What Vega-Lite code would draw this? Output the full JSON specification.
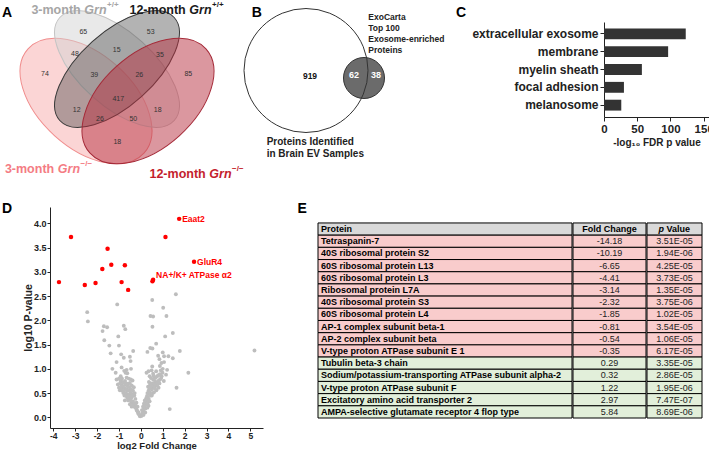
{
"$schema": "https://vega.github.io/schema/vega-lite/v6.json",
"background": "white",
"padding": {"left": 2, "top": 1, "right": 0, "bottom": 0},
"config": {
  "font": "Liberation Sans",
  "locale": {"number": {"decimal": ".", "thousands": ",", "grouping": [3], "currency": ["$", ""], "minus": "-"}},
  "view": {"stroke": null},
  "axis": {"grid": false, "labelFont": "Liberation Sans", "titleFont": "Liberation Sans", "domainColor": "#222", "tickColor": "#222", "labelColor": "#222", "titleColor": "#222", "labelFontWeight": "bold", "titleFontWeight": "bold", "labelFlush": false, "labelOverlap": false}
},
"datasets": {
  "ellipses": [
    {"set": "3-month Grn-/-", "x": 8.6, "y": 10.1},
    {"set": "3-month Grn+/+", "x": 11.7, "y": 6.9},
    {"set": "12-month Grn+/+", "x": 11.7, "y": 6.9},
    {"set": "12-month Grn-/-", "x": 14.8, "y": 10.1}
  ],
  "vennCounts": [
    {"region": "3m KO only", "count": 74, "x": 4.5, "y": 7.4},
    {"region": "3m WT only", "count": 65, "x": 8.33, "y": 3.17},
    {"region": "12m WT only", "count": 53, "x": 15.07, "y": 3.17},
    {"region": "12m KO only", "count": 85, "x": 18.83, "y": 7.4},
    {"region": "3m KO & 3m WT", "count": 48, "x": 7.5, "y": 5.4},
    {"region": "3m WT & 12m WT", "count": 15, "x": 11.67, "y": 5.0},
    {"region": "12m WT & 12m KO", "count": 35, "x": 16.0, "y": 5.5},
    {"region": "3m KO & 3m WT & 12m WT", "count": 39, "x": 9.43, "y": 7.5},
    {"region": "3m WT & 12m WT & 12m KO", "count": 26, "x": 13.93, "y": 7.5},
    {"region": "all four", "count": 417, "x": 11.83, "y": 9.9},
    {"region": "3m KO & 12m WT", "count": 12, "x": 7.67, "y": 11.0},
    {"region": "3m WT & 12m KO", "count": 18, "x": 15.77, "y": 11.0},
    {"region": "3m KO & 12m WT & 12m KO", "count": 26, "x": 10.0, "y": 11.9},
    {"region": "3m KO & 3m WT & 12m KO", "count": 50, "x": 13.33, "y": 11.9},
    {"region": "3m KO & 12m KO", "count": 18, "x": 11.73, "y": 14.17}
  ],
  "vennLabels": [
    {"set": "3-month Grn+/+", "age": "3-month", "genotype": "+/+", "x": 8.25, "y": 1.0},
    {"set": "12-month Grn+/+", "age": "12-month", "genotype": "+/+", "x": 18.75, "y": 1.0},
    {"set": "3-month Grn-/-", "age": "3-month", "genotype": "−/−", "x": 5.6, "y": 16.9},
    {"set": "12-month Grn-/-", "age": "12-month", "genotype": "−/−", "x": 20.75, "y": 17.35}
  ],
  "topPanels": [
    {"panel": "A", "x": 0.2, "y": 1.33},
    {"panel": "B", "x": 25.17, "y": 1.33},
    {"panel": "C", "x": 45.6, "y": 1.33}
  ],
  "bottomPanels": [
    {"panel": "D", "log2FC": -6.34, "log10P": 4.294},
    {"panel": "E", "log2FC": 7.16, "log10P": 4.294}
  ],
  "evSets": [
    {"set": "Brain EV proteins", "x": 30.6, "y": 7.05},
    {"set": "ExoCarta top 100", "x": 36.4, "y": 7.8}
  ],
  "evCounts": [
    {"region": "Brain EV only", "count": 919, "x": 31.0, "y": 7.6},
    {"region": "Both", "count": 62, "x": 35.4, "y": 7.5},
    {"region": "ExoCarta only", "count": 38, "x": 37.6, "y": 7.5}
  ],
  "evLabels": [
    {"group": "ExoCarta", "text": "ExoCarta", "x": 36.83, "y": 1.67},
    {"group": "ExoCarta", "text": "Top 100", "x": 36.83, "y": 2.83},
    {"group": "ExoCarta", "text": "Exosome-enriched", "x": 36.83, "y": 3.9},
    {"group": "ExoCarta", "text": "Proteins", "x": 36.83, "y": 5.0},
    {"group": "EV", "text": "Proteins Identified", "x": 26.67, "y": 14.17},
    {"group": "EV", "text": "in Brain EV Samples", "x": 26.67, "y": 15.4}
  ],
  "goTerms": [
    {"term": "extracellular exosome", "negLog10FDR": 123},
    {"term": "membrane", "negLog10FDR": 96.5},
    {"term": "myelin sheath", "negLog10FDR": 57},
    {"term": "focal adhesion", "negLog10FDR": 30},
    {"term": "melanosome", "negLog10FDR": 26}
  ],
  "volcano": [
    {"log2FC": 1.75, "log10P": 4.095, "sig": "yes", "label": "Eaat2"},
    {"log2FC": -3.19, "log10P": 3.72, "sig": "yes"},
    {"log2FC": 1.125, "log10P": 3.72, "sig": "yes"},
    {"log2FC": -1.52, "log10P": 3.48, "sig": "yes"},
    {"log2FC": -1.35, "log10P": 3.15, "sig": "yes"},
    {"log2FC": -1.76, "log10P": 3.06, "sig": "yes"},
    {"log2FC": -0.73, "log10P": 3.14, "sig": "yes"},
    {"log2FC": 2.43, "log10P": 3.21, "sig": "yes", "label": "GluR4"},
    {"log2FC": -3.74, "log10P": 2.79, "sig": "yes"},
    {"log2FC": -2.56, "log10P": 2.73, "sig": "yes"},
    {"log2FC": -2.07, "log10P": 2.77, "sig": "yes"},
    {"log2FC": -0.88, "log10P": 2.79, "sig": "yes"},
    {"log2FC": -0.58, "log10P": 2.63, "sig": "yes"},
    {"log2FC": 0.56, "log10P": 2.84, "sig": "yes", "label": "NA+/K+ ATPase α2"},
    {"log2FC": 0.53, "log10P": 2.81, "sig": "yes"},
    {"log2FC": 1.6, "log10P": 2.54, "sig": "no"},
    {"log2FC": 0.52, "log10P": 2.42, "sig": "no"},
    {"log2FC": -1.08, "log10P": 2.33, "sig": "no"},
    {"log2FC": 1.02, "log10P": 2.26, "sig": "no"},
    {"log2FC": -2.45, "log10P": 2.17, "sig": "no"},
    {"log2FC": 0.44, "log10P": 2.09, "sig": "no"},
    {"log2FC": 0.56, "log10P": 2.08, "sig": "no"},
    {"log2FC": 1.17, "log10P": 2.09, "sig": "no"},
    {"log2FC": -2.42, "log10P": 1.98, "sig": "no"},
    {"log2FC": -1.69, "log10P": 1.88, "sig": "no"},
    {"log2FC": -1.54, "log10P": 1.86, "sig": "no"},
    {"log2FC": -0.78, "log10P": 1.89, "sig": "no"},
    {"log2FC": -0.71, "log10P": 1.82, "sig": "no"},
    {"log2FC": 0.53, "log10P": 1.87, "sig": "no"},
    {"log2FC": -1.75, "log10P": 1.78, "sig": "no"},
    {"log2FC": 1.46, "log10P": 1.74, "sig": "no"},
    {"log2FC": 1.11, "log10P": 1.67, "sig": "no"},
    {"log2FC": -1.03, "log10P": 1.67, "sig": "no"},
    {"log2FC": -1.67, "log10P": 1.59, "sig": "no"},
    {"log2FC": -1.44, "log10P": 1.48, "sig": "no"},
    {"log2FC": -1.0, "log10P": 1.48, "sig": "no"},
    {"log2FC": 0.7, "log10P": 1.52, "sig": "no"},
    {"log2FC": 1.78, "log10P": 1.37, "sig": "no"},
    {"log2FC": 5.19, "log10P": 1.38, "sig": "no"},
    {"log2FC": -1.38, "log10P": 1.32, "sig": "no"},
    {"log2FC": -0.35, "log10P": 1.37, "sig": "no"},
    {"log2FC": 0.43, "log10P": 1.43, "sig": "no"},
    {"log2FC": 0.53, "log10P": 1.42, "sig": "no"},
    {"log2FC": 1.0, "log10P": 1.34, "sig": "no"},
    {"log2FC": 1.06, "log10P": 1.26, "sig": "no"},
    {"log2FC": 1.26, "log10P": 1.26, "sig": "no"},
    {"log2FC": 1.46, "log10P": 1.22, "sig": "no"},
    {"log2FC": 0.79, "log10P": 1.27, "sig": "no"},
    {"log2FC": -0.78, "log10P": 1.23, "sig": "no"},
    {"log2FC": -1.11, "log10P": 1.14, "sig": "no"},
    {"log2FC": -0.47, "log10P": 1.16, "sig": "no"},
    {"log2FC": 0.94, "log10P": 1.12, "sig": "no"},
    {"log2FC": 1.06, "log10P": 1.14, "sig": "no"},
    {"log2FC": 0.87, "log10P": 1.06, "sig": "no"},
    {"log2FC": -0.88, "log10P": 1.03, "sig": "no"},
    {"log2FC": -0.65, "log10P": 0.98, "sig": "no"},
    {"log2FC": -0.76, "log10P": 0.96, "sig": "no"},
    {"log2FC": -0.7, "log10P": 0.92, "sig": "no"},
    {"log2FC": -0.62, "log10P": 0.91, "sig": "no"},
    {"log2FC": 0.26, "log10P": 0.92, "sig": "no"},
    {"log2FC": 0.49, "log10P": 0.97, "sig": "no"},
    {"log2FC": 0.56, "log10P": 0.9, "sig": "no"},
    {"log2FC": 0.91, "log10P": 0.97, "sig": "no"},
    {"log2FC": 0.99, "log10P": 0.92, "sig": "no"},
    {"log2FC": 2.17, "log10P": 0.92, "sig": "no"},
    {"log2FC": -1.11, "log10P": 0.78, "sig": "no"},
    {"log2FC": -0.93, "log10P": 0.76, "sig": "no"},
    {"log2FC": -0.84, "log10P": 0.73, "sig": "no"},
    {"log2FC": -0.78, "log10P": 0.71, "sig": "no"},
    {"log2FC": -0.7, "log10P": 0.67, "sig": "no"},
    {"log2FC": -0.58, "log10P": 0.69, "sig": "no"},
    {"log2FC": -0.5, "log10P": 0.71, "sig": "no"},
    {"log2FC": -0.38, "log10P": 0.76, "sig": "no"},
    {"log2FC": -0.32, "log10P": 0.62, "sig": "no"},
    {"log2FC": 0.37, "log10P": 0.73, "sig": "no"},
    {"log2FC": 0.46, "log10P": 0.81, "sig": "no"},
    {"log2FC": 0.56, "log10P": 0.78, "sig": "no"},
    {"log2FC": 0.62, "log10P": 0.83, "sig": "no"},
    {"log2FC": 0.71, "log10P": 0.71, "sig": "no"},
    {"log2FC": 0.75, "log10P": 0.85, "sig": "no"},
    {"log2FC": 0.87, "log10P": 0.89, "sig": "no"},
    {"log2FC": 0.93, "log10P": 0.81, "sig": "no"},
    {"log2FC": 0.33, "log10P": 0.63, "sig": "no"},
    {"log2FC": 0.5, "log10P": 0.58, "sig": "no"},
    {"log2FC": 0.59, "log10P": 0.62, "sig": "no"},
    {"log2FC": 0.71, "log10P": 0.56, "sig": "no"},
    {"log2FC": 0.81, "log10P": 0.61, "sig": "no"},
    {"log2FC": -1.0, "log10P": 0.61, "sig": "no"},
    {"log2FC": -0.96, "log10P": 0.56, "sig": "no"},
    {"log2FC": -0.78, "log10P": 0.53, "sig": "no"},
    {"log2FC": -0.68, "log10P": 0.49, "sig": "no"},
    {"log2FC": -0.53, "log10P": 0.45, "sig": "no"},
    {"log2FC": -0.47, "log10P": 0.51, "sig": "no"},
    {"log2FC": -0.4, "log10P": 0.43, "sig": "no"},
    {"log2FC": -0.73, "log10P": 0.35, "sig": "no"},
    {"log2FC": -0.58, "log10P": 0.35, "sig": "no"},
    {"log2FC": -0.41, "log10P": 0.31, "sig": "no"},
    {"log2FC": -0.32, "log10P": 0.25, "sig": "no"},
    {"log2FC": -0.26, "log10P": 0.21, "sig": "no"},
    {"log2FC": -0.18, "log10P": 0.14, "sig": "no"},
    {"log2FC": -0.12, "log10P": 0.08, "sig": "no"},
    {"log2FC": -0.03, "log10P": 0.02, "sig": "no"},
    {"log2FC": 0.15, "log10P": 0.1, "sig": "no"},
    {"log2FC": 0.21, "log10P": 0.18, "sig": "no"},
    {"log2FC": 0.26, "log10P": 0.27, "sig": "no"},
    {"log2FC": 0.27, "log10P": 0.35, "sig": "no"},
    {"log2FC": 0.32, "log10P": 0.42, "sig": "no"},
    {"log2FC": 0.38, "log10P": 0.49, "sig": "no"},
    {"log2FC": 1.63, "log10P": 0.61, "sig": "no"},
    {"log2FC": 1.32, "log10P": 0.17, "sig": "no"},
    {"log2FC": -0.05, "log10P": 0.03, "sig": "no"},
    {"log2FC": -0.08, "log10P": 0.06, "sig": "no"},
    {"log2FC": -0.1, "log10P": 0.1, "sig": "no"},
    {"log2FC": -0.15, "log10P": 0.12, "sig": "no"},
    {"log2FC": -0.2, "log10P": 0.16, "sig": "no"},
    {"log2FC": -0.22, "log10P": 0.2, "sig": "no"},
    {"log2FC": -0.24, "log10P": 0.24, "sig": "no"},
    {"log2FC": -0.28, "log10P": 0.22, "sig": "no"},
    {"log2FC": -0.3, "log10P": 0.28, "sig": "no"},
    {"log2FC": -0.35, "log10P": 0.27, "sig": "no"},
    {"log2FC": -0.36, "log10P": 0.33, "sig": "no"},
    {"log2FC": -0.45, "log10P": 0.34, "sig": "no"},
    {"log2FC": -0.5, "log10P": 0.38, "sig": "no"},
    {"log2FC": -0.44, "log10P": 0.4, "sig": "no"},
    {"log2FC": -0.48, "log10P": 0.47, "sig": "no"},
    {"log2FC": -0.56, "log10P": 0.42, "sig": "no"},
    {"log2FC": -0.6, "log10P": 0.47, "sig": "no"},
    {"log2FC": -0.62, "log10P": 0.4, "sig": "no"},
    {"log2FC": -0.66, "log10P": 0.44, "sig": "no"},
    {"log2FC": -0.7, "log10P": 0.5, "sig": "no"},
    {"log2FC": -0.75, "log10P": 0.45, "sig": "no"},
    {"log2FC": -0.8, "log10P": 0.5, "sig": "no"},
    {"log2FC": -0.85, "log10P": 0.55, "sig": "no"},
    {"log2FC": -0.9, "log10P": 0.6, "sig": "no"},
    {"log2FC": -0.88, "log10P": 0.66, "sig": "no"},
    {"log2FC": -0.82, "log10P": 0.64, "sig": "no"},
    {"log2FC": -0.75, "log10P": 0.6, "sig": "no"},
    {"log2FC": -0.66, "log10P": 0.58, "sig": "no"},
    {"log2FC": -0.62, "log10P": 0.55, "sig": "no"},
    {"log2FC": -0.55, "log10P": 0.56, "sig": "no"},
    {"log2FC": -0.52, "log10P": 0.62, "sig": "no"},
    {"log2FC": -0.45, "log10P": 0.58, "sig": "no"},
    {"log2FC": -0.42, "log10P": 0.66, "sig": "no"},
    {"log2FC": -0.6, "log10P": 0.64, "sig": "no"},
    {"log2FC": -0.66, "log10P": 0.7, "sig": "no"},
    {"log2FC": -0.72, "log10P": 0.75, "sig": "no"},
    {"log2FC": -0.86, "log10P": 0.8, "sig": "no"},
    {"log2FC": -0.95, "log10P": 0.7, "sig": "no"},
    {"log2FC": -1.05, "log10P": 0.68, "sig": "no"},
    {"log2FC": -1.0, "log10P": 0.8, "sig": "no"},
    {"log2FC": -0.92, "log10P": 0.85, "sig": "no"},
    {"log2FC": -0.55, "log10P": 0.8, "sig": "no"},
    {"log2FC": -0.65, "log10P": 0.82, "sig": "no"},
    {"log2FC": -0.46, "log10P": 0.78, "sig": "no"},
    {"log2FC": -0.36, "log10P": 0.55, "sig": "no"},
    {"log2FC": -0.3, "log10P": 0.45, "sig": "no"},
    {"log2FC": -0.25, "log10P": 0.38, "sig": "no"},
    {"log2FC": -0.2, "log10P": 0.3, "sig": "no"},
    {"log2FC": -0.15, "log10P": 0.22, "sig": "no"},
    {"log2FC": -0.38, "log10P": 0.48, "sig": "no"},
    {"log2FC": -0.28, "log10P": 0.5, "sig": "no"},
    {"log2FC": -0.5, "log10P": 0.27, "sig": "no"},
    {"log2FC": -0.42, "log10P": 0.22, "sig": "no"},
    {"log2FC": 0.03, "log10P": 0.03, "sig": "no"},
    {"log2FC": 0.06, "log10P": 0.05, "sig": "no"},
    {"log2FC": 0.08, "log10P": 0.08, "sig": "no"},
    {"log2FC": 0.1, "log10P": 0.12, "sig": "no"},
    {"log2FC": 0.12, "log10P": 0.16, "sig": "no"},
    {"log2FC": 0.16, "log10P": 0.2, "sig": "no"},
    {"log2FC": 0.18, "log10P": 0.25, "sig": "no"},
    {"log2FC": 0.2, "log10P": 0.3, "sig": "no"},
    {"log2FC": 0.22, "log10P": 0.36, "sig": "no"},
    {"log2FC": 0.25, "log10P": 0.4, "sig": "no"},
    {"log2FC": 0.28, "log10P": 0.44, "sig": "no"},
    {"log2FC": 0.3, "log10P": 0.5, "sig": "no"},
    {"log2FC": 0.35, "log10P": 0.55, "sig": "no"},
    {"log2FC": 0.4, "log10P": 0.6, "sig": "no"},
    {"log2FC": 0.42, "log10P": 0.67, "sig": "no"},
    {"log2FC": 0.45, "log10P": 0.7, "sig": "no"},
    {"log2FC": 0.48, "log10P": 0.64, "sig": "no"},
    {"log2FC": 0.52, "log10P": 0.7, "sig": "no"},
    {"log2FC": 0.55, "log10P": 0.66, "sig": "no"},
    {"log2FC": 0.6, "log10P": 0.7, "sig": "no"},
    {"log2FC": 0.65, "log10P": 0.75, "sig": "no"},
    {"log2FC": 0.68, "log10P": 0.66, "sig": "no"},
    {"log2FC": 0.64, "log10P": 0.6, "sig": "no"},
    {"log2FC": 0.75, "log10P": 0.65, "sig": "no"},
    {"log2FC": 0.78, "log10P": 0.72, "sig": "no"},
    {"log2FC": 0.82, "log10P": 0.76, "sig": "no"},
    {"log2FC": 0.85, "log10P": 0.7, "sig": "no"},
    {"log2FC": 0.88, "log10P": 0.78, "sig": "no"},
    {"log2FC": 0.68, "log10P": 0.82, "sig": "no"},
    {"log2FC": 0.58, "log10P": 0.86, "sig": "no"},
    {"log2FC": 0.8, "log10P": 0.87, "sig": "no"},
    {"log2FC": 0.42, "log10P": 0.52, "sig": "no"},
    {"log2FC": 0.45, "log10P": 0.45, "sig": "no"},
    {"log2FC": 0.36, "log10P": 0.38, "sig": "no"},
    {"log2FC": 0.32, "log10P": 0.3, "sig": "no"},
    {"log2FC": 0.18, "log10P": 0.35, "sig": "no"},
    {"log2FC": 0.14, "log10P": 0.28, "sig": "no"},
    {"log2FC": 0.1, "log10P": 0.22, "sig": "no"},
    {"log2FC": 0.05, "log10P": 0.15, "sig": "no"},
    {"log2FC": 0.12, "log10P": 0.05, "sig": "no"},
    {"log2FC": 0.2, "log10P": 0.1, "sig": "no"},
    {"log2FC": 0.3, "log10P": 0.2, "sig": "no"},
    {"log2FC": 0.35, "log10P": 0.24, "sig": "no"},
    {"log2FC": 0.4, "log10P": 0.33, "sig": "no"},
    {"log2FC": 0.5, "log10P": 0.45, "sig": "no"},
    {"log2FC": 0.55, "log10P": 0.5, "sig": "no"},
    {"log2FC": 0.6, "log10P": 0.52, "sig": "no"},
    {"log2FC": 0.95, "log10P": 0.85, "sig": "no"},
    {"log2FC": 1.0, "log10P": 1.0, "sig": "no"},
    {"log2FC": 0.7, "log10P": 0.95, "sig": "no"},
    {"log2FC": 0.4, "log10P": 0.85, "sig": "no"},
    {"log2FC": 0.35, "log10P": 0.95, "sig": "no"},
    {"log2FC": 0.52, "log10P": 1.05, "sig": "no"},
    {"log2FC": 1.05, "log10P": 0.75, "sig": "no"},
    {"log2FC": 1.15, "log10P": 0.88, "sig": "no"},
    {"log2FC": 1.2, "log10P": 0.98, "sig": "no"},
    {"log2FC": 0.85, "log10P": 1.2, "sig": "no"},
    {"log2FC": 0.3, "log10P": 1.35, "sig": "no"},
    {"log2FC": -0.5, "log10P": 1.25, "sig": "no"},
    {"log2FC": -1.3, "log10P": 1.0, "sig": "no"},
    {"log2FC": -1.15, "log10P": 0.92, "sig": "no"},
    {"log2FC": -0.9, "log10P": 1.3, "sig": "no"},
    {"log2FC": -0.45, "log10P": 1.0, "sig": "no"}
  ],
  "header": [
    {"Protein": "Protein", "FoldChange": "Fold Change", "pValue": "p Value"}
  ],
  "proteins": [
    {"Protein": "Tetraspanin-7", "FoldChange": -14.18, "pValue": "3.51E-05", "change": "decrease"},
    {"Protein": "40S ribosomal protein S2", "FoldChange": -10.19, "pValue": "1.94E-06", "change": "decrease"},
    {"Protein": "60S ribosomal protein L13", "FoldChange": -6.65, "pValue": "4.25E-05", "change": "decrease"},
    {"Protein": "60S ribosomal protein L3", "FoldChange": -4.41, "pValue": "3.73E-05", "change": "decrease"},
    {"Protein": "Ribosomal protein L7A", "FoldChange": -3.14, "pValue": "1.35E-05", "change": "decrease"},
    {"Protein": "40S ribosomal protein S3", "FoldChange": -2.32, "pValue": "3.75E-06", "change": "decrease"},
    {"Protein": "60S ribosomal protein L4", "FoldChange": -1.85, "pValue": "1.02E-05", "change": "decrease"},
    {"Protein": "AP-1 complex subunit beta-1", "FoldChange": -0.81, "pValue": "3.54E-05", "change": "decrease"},
    {"Protein": "AP-2 complex subunit beta", "FoldChange": -0.54, "pValue": "1.06E-05", "change": "decrease"},
    {"Protein": "V-type proton ATPase subunit E 1", "FoldChange": -0.35, "pValue": "6.17E-05", "change": "decrease"},
    {"Protein": "Tubulin beta-3 chain", "FoldChange": 0.29, "pValue": "3.35E-05", "change": "increase"},
    {"Protein": "Sodium/potassium-transporting ATPase subunit alpha-2", "FoldChange": 0.32, "pValue": "2.86E-05", "change": "increase"},
    {"Protein": "V-type proton ATPase subunit F", "FoldChange": 1.22, "pValue": "1.95E-06", "change": "increase"},
    {"Protein": "Excitatory amino acid transporter 2", "FoldChange": 2.97, "pValue": "7.47E-07", "change": "increase"},
    {"Protein": "AMPA-selective glutamate receptor 4 flop type", "FoldChange": 5.84, "pValue": "8.69E-06", "change": "increase"}
  ]
},
"spacing": 21,
"vconcat": [
  {
    "spacing": 4,
    "hconcat": [
      {
        "width": 380, "height": 120,
        "encoding": {
          "x": {"field": "x", "type": "quantitative", "scale": {"domain": [5, 43], "nice": false, "zero": false}, "axis": null},
          "y": {"field": "y", "type": "quantitative", "scale": {"domain": [2.2, 14.2], "nice": false, "zero": false, "reverse": true}, "axis": null}
        },
        "layer": [
          {"data": {"name": "ellipses"}, "transform": [{"filter": "datum.set === '3-month Grn-/-'"}],
           "mark": {"type": "point", "shape": "M-1,0A1,0.6,0,1,1,1,0A1,0.6,0,1,1,-1,0Z", "size": 24336, "angle": 42, "filled": true, "fill": "#f7a1a1", "fillOpacity": 0.45, "stroke": "#f08c8c", "strokeWidth": 1, "opacity": 1}},
          {"data": {"name": "ellipses"}, "transform": [{"filter": "datum.set === '3-month Grn+/+'"}],
           "mark": {"type": "point", "shape": "M-1,0A1,0.48,0,1,1,1,0A1,0.48,0,1,1,-1,0Z", "size": 23716, "angle": 42, "filled": true, "fill": "#d3d3d3", "fillOpacity": 0.5, "stroke": "#c4c4c4", "strokeWidth": 1, "opacity": 1}},
          {"data": {"name": "ellipses"}, "transform": [{"filter": "datum.set === '12-month Grn+/+'"}],
           "mark": {"type": "point", "shape": "M-1,0A1,0.48,0,1,1,1,0A1,0.48,0,1,1,-1,0Z", "size": 23716, "angle": -42, "filled": true, "fill": "#4a4a4a", "fillOpacity": 0.42, "stroke": "#3a3a3a", "strokeWidth": 1, "opacity": 1}},
          {"data": {"name": "ellipses"}, "transform": [{"filter": "datum.set === '12-month Grn-/-'"}],
           "mark": {"type": "point", "shape": "M-1,0A1,0.6,0,1,1,1,0A1,0.6,0,1,1,-1,0Z", "size": 24336, "angle": -42, "filled": true, "fill": "#b8303f", "fillOpacity": 0.5, "stroke": "#a52a38", "strokeWidth": 1, "opacity": 1}},
          {"data": {"name": "vennCounts"},
           "mark": {"type": "text", "fontSize": 7, "color": "#333", "baseline": "middle"},
           "encoding": {"text": {"field": "count"}}},
          {"data": {"name": "vennLabels"},
           "mark": {"type": "text", "align": "right", "dx": -1.8, "fontSize": 12.5, "fontWeight": "bold"},
           "encoding": {"text": {"field": "age"}, "color": {"field": "set", "type": "nominal", "scale": {"domain": ["3-month Grn+/+", "12-month Grn+/+", "3-month Grn-/-", "12-month Grn-/-"], "range": ["#a6a6a6", "#1a1a1a", "#f47c84", "#c41e2d"]}, "legend": null}}},
          {"data": {"name": "vennLabels"},
           "mark": {"type": "text", "align": "left", "dx": 1.8, "fontSize": 12.5, "fontWeight": "bold", "fontStyle": "italic"},
           "encoding": {"text": {"value": "Grn"}, "color": {"field": "set", "type": "nominal", "legend": null}}},
          {"data": {"name": "vennLabels"},
           "mark": {"type": "text", "align": "left", "dx": 24.5, "dy": -5, "fontSize": 8, "fontWeight": "bold"},
           "encoding": {"text": {"field": "genotype"}, "color": {"field": "set", "type": "nominal", "legend": null}}},
          {"data": {"name": "evSets"}, "transform": [{"filter": "datum.set === 'ExoCarta top 100'"}],
           "mark": {"type": "point", "shape": "circle", "size": 1681, "filled": true, "fill": "#6b6b6b", "stroke": "#333", "strokeWidth": 1, "opacity": 1}},
          {"data": {"name": "evSets"}, "transform": [{"filter": "datum.set === 'Brain EV proteins'"}],
           "mark": {"type": "point", "shape": "circle", "size": 15376, "filled": false, "stroke": "#333", "strokeWidth": 1, "opacity": 1}},
          {"data": {"name": "evCounts"}, "transform": [{"filter": "datum.region === 'Brain EV only'"}],
           "mark": {"type": "text", "fontSize": 8.5, "fontWeight": "bold", "color": "#111", "baseline": "middle"},
           "encoding": {"text": {"field": "count"}}},
          {"data": {"name": "evCounts"}, "transform": [{"filter": "datum.region !== 'Brain EV only'"}],
           "mark": {"type": "text", "fontSize": 9, "fontWeight": "bold", "color": "#ffffff", "baseline": "middle"},
           "encoding": {"text": {"field": "count"}}},
          {"data": {"name": "evLabels"}, "transform": [{"filter": "datum.group === 'ExoCarta'"}],
           "mark": {"type": "text", "align": "left", "baseline": "middle", "fontSize": 8.5, "fontWeight": "bold", "color": "#222"},
           "encoding": {"text": {"field": "text"}}},
          {"data": {"name": "evLabels"}, "transform": [{"filter": "datum.group === 'EV'"}],
           "mark": {"type": "text", "align": "left", "baseline": "middle", "fontSize": 10, "fontWeight": "bold", "color": "#222"},
           "encoding": {"text": {"field": "text"}}},
          {"data": {"name": "topPanels"},
           "mark": {"type": "text", "align": "left", "fontSize": 14, "fontWeight": "bold", "color": "#000"},
           "encoding": {"text": {"field": "panel"}}}
        ]
      },
      {
        "width": 105, "height": 95,
        "data": {"name": "goTerms"},
        "mark": {"type": "bar", "color": "#333333"},
        "encoding": {
          "y": {"field": "term", "type": "nominal", "sort": null, "scale": {"paddingInner": 0.39, "paddingOuter": 0.36}, "axis": {"title": null, "labelFontSize": 12, "labelPadding": 2, "tickSize": 4, "labelLimit": 0}},
          "x": {"field": "negLog10FDR", "type": "quantitative", "scale": {"domain": [0, 158], "nice": false}, "axis": {"values": [0, 50, 100, 150], "title": "-log₁₀ FDR p value", "labelFontSize": 11.5, "titleFontSize": 10, "tickSize": 4, "labelPadding": 2, "titlePadding": 3}}
        }
      }
    ]
  },
  {
    "spacing": 10,
    "hconcat": [
      {
        "width": 213, "height": 221,
        "data": {"name": "volcano"},
        "encoding": {
          "x": {"field": "log2FC", "type": "quantitative", "scale": {"domain": [-4.15, 5.58], "nice": false, "zero": false}, "axis": {"title": "log2 Fold Change", "values": [-4, -3, -2, -1, 0, 1, 2, 3, 4, 5], "labelFontSize": 8.5, "titleFontSize": 9.5, "tickSize": 3, "labelPadding": 0, "titlePadding": 0.5}},
          "y": {"field": "log10P", "type": "quantitative", "scale": {"domain": [-0.22, 4.34], "nice": false, "zero": false}, "axis": {"title": "log10 P-value", "values": [0, 0.5, 1, 1.5, 2, 2.5, 3, 3.5, 4], "format": ".1f", "labelFontSize": 9, "titleFontSize": 10.5, "tickSize": 3, "labelPadding": 1, "titlePadding": 0}}
        },
        "layer": [
          {"transform": [{"filter": "datum.sig === 'no'"}], "mark": {"type": "circle", "color": "#bdbdbd", "size": 15, "opacity": 1}},
          {"transform": [{"filter": "datum.sig === 'yes'"}], "mark": {"type": "circle", "color": "#ff0000", "size": 20, "opacity": 1}},
          {"transform": [{"filter": "datum.label === 'Eaat2' || datum.label === 'GluR4'"}],
           "mark": {"type": "text", "align": "left", "baseline": "middle", "dx": 3, "fontSize": 8.5, "fontWeight": "bold", "color": "#ff0000"},
           "encoding": {"text": {"field": "label"}}},
          {"transform": [{"filter": "datum.label === 'NA+/K+ ATPase α2'"}],
           "mark": {"type": "text", "align": "left", "baseline": "middle", "dx": 3, "dy": -5, "fontSize": 8.5, "fontWeight": "bold", "color": "#ff0000"},
           "encoding": {"text": {"field": "label"}}},
          {"data": {"name": "bottomPanels"},
           "mark": {"type": "text", "align": "left", "fontSize": 14, "fontWeight": "bold", "color": "#000"},
           "encoding": {"text": {"field": "panel"}}}
        ]
      },
      {
        "spacing": -1,
        "hconcat": [
          {
            "width": 254, "height": 211,
            "encoding": {"y": {"field": "Protein", "type": "nominal", "sort": null, "scale": {"domain": ["Protein", "Tetraspanin-7", "40S ribosomal protein S2", "60S ribosomal protein L13", "60S ribosomal protein L3", "Ribosomal protein L7A", "40S ribosomal protein S3", "60S ribosomal protein L4", "AP-1 complex subunit beta-1", "AP-2 complex subunit beta", "V-type proton ATPase subunit E 1", "Tubulin beta-3 chain", "Sodium/potassium-transporting ATPase subunit alpha-2", "V-type proton ATPase subunit F", "Excitatory amino acid transporter 2", "AMPA-selective glutamate receptor 4 flop type"], "paddingInner": 0, "paddingOuter": 0.655, "align": 1, "round": false}, "axis": null}},
            "layer": [
              {"data": {"name": "header"}, "mark": {"type": "rect", "fill": "#d9d9d9", "stroke": "#000", "strokeWidth": 1}},
              {"data": {"name": "proteins"}, "mark": {"type": "rect", "stroke": "#000", "strokeWidth": 1},
               "encoding": {"fill": {"field": "change", "type": "nominal", "scale": {"domain": ["decrease", "increase"], "range": ["#f9cccc", "#e2efda"]}, "legend": null}}},
              {"data": {"name": "header"}, "mark": {"type": "text", "align": "left", "baseline": "middle", "dx": 3, "fontSize": 9, "fontWeight": "bold", "color": "#000"},
               "encoding": {"x": {"datum": 0, "type": "quantitative", "scale": {"domain": [0, 1]}, "axis": null}, "text": {"field": "Protein"}}},
              {"data": {"name": "proteins"}, "mark": {"type": "text", "align": "left", "baseline": "middle", "dx": 3, "fontSize": 9, "fontWeight": "bold", "color": "#000"},
               "encoding": {"x": {"datum": 0, "type": "quantitative", "axis": null}, "text": {"field": "Protein"}}}
            ]
          },
          {
            "width": 73, "height": 211,
            "encoding": {"y": {"field": "Protein", "type": "nominal", "sort": null, "scale": {"domain": ["Protein", "Tetraspanin-7", "40S ribosomal protein S2", "60S ribosomal protein L13", "60S ribosomal protein L3", "Ribosomal protein L7A", "40S ribosomal protein S3", "60S ribosomal protein L4", "AP-1 complex subunit beta-1", "AP-2 complex subunit beta", "V-type proton ATPase subunit E 1", "Tubulin beta-3 chain", "Sodium/potassium-transporting ATPase subunit alpha-2", "V-type proton ATPase subunit F", "Excitatory amino acid transporter 2", "AMPA-selective glutamate receptor 4 flop type"], "paddingInner": 0, "paddingOuter": 0.655, "align": 1, "round": false}, "axis": null}},
            "layer": [
              {"data": {"name": "header"}, "mark": {"type": "rect", "fill": "#d9d9d9", "stroke": "#000", "strokeWidth": 1}},
              {"data": {"name": "proteins"}, "mark": {"type": "rect", "stroke": "#000", "strokeWidth": 1},
               "encoding": {"fill": {"field": "change", "type": "nominal", "legend": null}}},
              {"data": {"name": "header"}, "mark": {"type": "text", "baseline": "middle", "fontSize": 9, "fontWeight": "bold", "color": "#000"},
               "encoding": {"text": {"field": "FoldChange"}}},
              {"data": {"name": "proteins"}, "mark": {"type": "text", "baseline": "middle", "fontSize": 9, "color": "#222"},
               "encoding": {"text": {"field": "FoldChange", "type": "quantitative", "format": ".2f"}}}
            ]
          },
          {
            "width": 55, "height": 211,
            "encoding": {"y": {"field": "Protein", "type": "nominal", "sort": null, "scale": {"domain": ["Protein", "Tetraspanin-7", "40S ribosomal protein S2", "60S ribosomal protein L13", "60S ribosomal protein L3", "Ribosomal protein L7A", "40S ribosomal protein S3", "60S ribosomal protein L4", "AP-1 complex subunit beta-1", "AP-2 complex subunit beta", "V-type proton ATPase subunit E 1", "Tubulin beta-3 chain", "Sodium/potassium-transporting ATPase subunit alpha-2", "V-type proton ATPase subunit F", "Excitatory amino acid transporter 2", "AMPA-selective glutamate receptor 4 flop type"], "paddingInner": 0, "paddingOuter": 0.655, "align": 1, "round": false}, "axis": null}},
            "layer": [
              {"data": {"name": "header"}, "mark": {"type": "rect", "fill": "#d9d9d9", "stroke": "#000", "strokeWidth": 1}},
              {"data": {"name": "proteins"}, "mark": {"type": "rect", "stroke": "#000", "strokeWidth": 1},
               "encoding": {"fill": {"field": "change", "type": "nominal", "legend": null}}},
              {"data": {"name": "header"}, "mark": {"type": "text", "align": "left", "baseline": "middle", "dx": -16, "fontSize": 9, "fontWeight": "bold", "fontStyle": "italic", "color": "#000"},
               "encoding": {"text": {"value": "p"}}},
              {"data": {"name": "header"}, "mark": {"type": "text", "align": "left", "baseline": "middle", "dx": -8, "fontSize": 9, "fontWeight": "bold", "color": "#000"},
               "encoding": {"text": {"value": "Value"}}},
              {"data": {"name": "proteins"}, "mark": {"type": "text", "baseline": "middle", "fontSize": 9, "color": "#222"},
               "encoding": {"text": {"field": "pValue"}}}
            ]
          }
        ]
      }
    ]
  }
]
}
